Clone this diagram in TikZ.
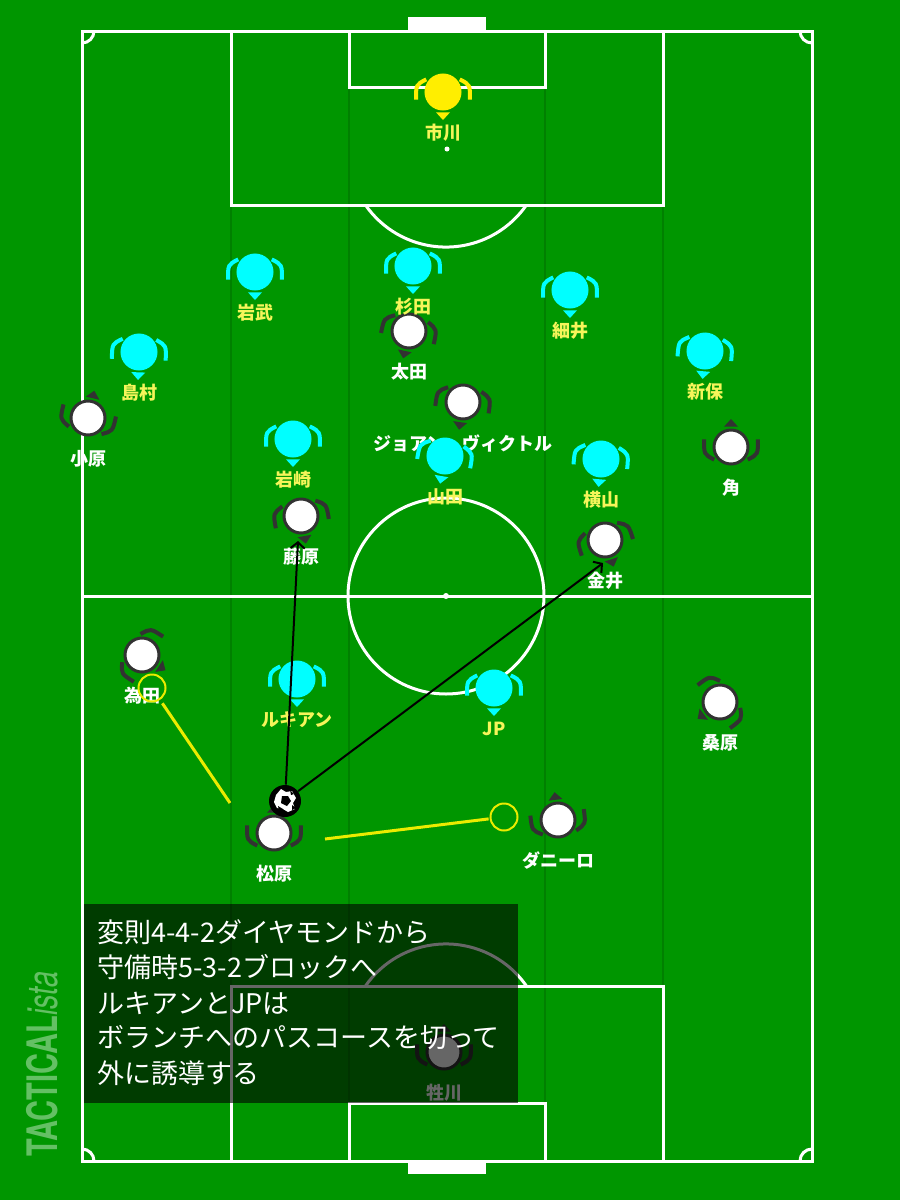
\documentclass[tikz,border=0pt]{standalone}
\usepackage{fontspec}
\newfontfamily\jp{Noto Sans CJK JP}
\newfontfamily\wmf{TeX Gyre Heros}
\usetikzlibrary{arrows.meta}
\definecolor{pitch}{RGB}{0,150,0}
\definecolor{stripe}{RGB}{0,128,0}
\definecolor{cyanp}{RGB}{0,255,255}
\definecolor{yel}{RGB}{255,238,0}
\definecolor{labely}{RGB}{245,245,90}
\definecolor{dk}{RGB}{50,50,50}
\definecolor{wm}{RGB}{100,192,100}
\definecolor{hl}{RGB}{235,235,0}
\tikzset{
  pline/.style={white, line width=1.5pt},
  stripeline/.style={stripe, line width=1pt},
  lbl/.style={font=\jp\bfseries\fontsize{9}{10}\selectfont, inner sep=0pt},
  boxtext/.style={font=\jp\fontsize{13.5}{16}\selectfont, text=white, anchor=west, inner sep=0pt},
  pdisc/.style={circle, line width=1.5pt, minimum size=17pt, inner sep=0pt},
  shoulder/.style={line width=2pt},
  passarrow/.style={black, line width=1pt, -{Straight Barb[length=3pt,width=7pt]}},
  hlline/.style={hl, line width=1.5pt},
  hlring/.style={circle, draw=hl, line width=1pt, minimum size=13.5pt, inner sep=0pt},
}
% #1 id, #2 x, #3 y, #4 facing angle, #5 fill, #6 accent, #7 label, #8 label colour
\newcommand\plr[8]{%
  \begin{scope}[shift={(#2,#3)}]
    \draw[#6, shoulder] (#4+127:21) .. controls (#4+105:28) .. (#4+74:28);
    \draw[#6, shoulder] (#4-127:21) .. controls (#4-105:28) .. (#4-74:28);
    \fill[#6] (#4:28) -- (#4+19:21.5) -- (#4-19:21.5) -- cycle;
  \end{scope}
  \node[pdisc, fill=#5, draw=#6] (#1) at (#2,#3) {};
  \node[lbl, text=#8] (#1-l) at (#2,#3+41) {#7};
}
\begin{document}
\begin{tikzpicture}[x=0.5pt,y=-0.5pt]
\useasboundingbox (0,0) rectangle (900,1200);
\fill[pitch] (0,0) rectangle (900,1200);
% stripes
\foreach \sx in {231,349,545,663} \draw[stripeline] (\sx,31) -- (\sx,1161);
% pitch lines
\draw[pline] (82,31) rectangle (812,1161);
\draw[pline] (82,596) -- (812,596);
\draw[pline] (446,596) circle[radius=98];
\fill[white] (446,596) circle[radius=3];
\draw[pline] (231,31) rectangle (663,205);
\draw[pline] (349,31) rectangle (545,87);
\draw[pline] (231,1161) rectangle (663,986);
\draw[pline] (349,1161) rectangle (545,1103);
\draw[pline] (526.4,205) arc[start angle=34.8, end angle=145.2, radius=98];
\draw[pline] (526.4,986) arc[start angle=-34.8, end angle=-145.2, radius=98];
\fill[white] (447,149) circle[radius=2.5];
\fill[white] (446,1042) circle[radius=2.5];
\draw[pline] (94,31) arc[start angle=0, end angle=90, radius=12];
\draw[pline] (812,43) arc[start angle=90, end angle=180, radius=12];
\draw[pline] (94,1161) arc[start angle=0, end angle=-90, radius=12];
\draw[pline] (800,1161) arc[start angle=180, end angle=270, radius=12];
\fill[white] (408,17) rectangle (486,31);
\fill[white] (408,1161) rectangle (486,1174);
% white team
\plr{oota}{409}{331}{102}{white}{dk}{太田}{white}
\plr{joan}{463}{402}{98}{white}{dk}{ジョアン・ヴィクトル}{white}
\plr{ohara}{88}{418}{283}{white}{dk}{小原}{white}
\plr{kado}{731}{447}{270}{white}{dk}{角}{white}
\plr{fujiwara}{301}{516}{80}{white}{dk}{藤原}{white}
\plr{kanai}{605}{540}{72}{white}{dk}{金井}{white}
\plr{tameda}{142}{655}{33}{white}{dk}{為田}{white}
\plr{kuwahara}{720}{702}{143}{white}{dk}{桑原}{white}
\plr{matsubara}{274}{833}{270}{white}{dk}{松原}{white}
\plr{danilo}{558}{820}{263}{white}{dk}{ダニーロ}{white}
\plr{nikawa}{444}{1052}{270}{white}{dk}{牲川}{white}
% cyan team
\plr{ichikawa}{443}{92}{90}{yel}{yel}{市川}{labely}
\plr{iwatake}{255}{272}{90}{cyanp}{cyanp}{岩武}{labely}
\plr{sugita}{413}{266}{90}{cyanp}{cyanp}{杉田}{labely}
\plr{hosoi}{570}{290}{90}{cyanp}{cyanp}{細井}{labely}
\plr{shimamura}{139}{352}{92}{cyanp}{cyanp}{島村}{labely}
\plr{shinpo}{705}{351}{95}{cyanp}{cyanp}{新保}{labely}
\plr{iwasaki}{293}{439}{90}{cyanp}{cyanp}{岩崎}{labely}
\plr{yamada}{445}{456}{100}{cyanp}{cyanp}{山田}{labely}
\plr{yokoyama}{601}{459}{95}{cyanp}{cyanp}{横山}{labely}
\plr{lukian}{297}{679}{90}{cyanp}{cyanp}{ルキアン}{labely}
\plr{jp}{494}{688}{90}{cyanp}{cyanp}{JP}{labely}
% ball
\node[circle, fill=black, minimum size=16pt, inner sep=0pt] (ball) at (285,801) {};
\fill[white] (276,795) -- (281,789) -- (286,792) -- (292,791) -- (296,798) -- (293,803) -- (295,809) -- (288,812) -- (283,809) -- (277,808) -- (274,802) -- cycle;
\fill[black] (282,796) -- (288,796) -- (291,801) -- (287,806) -- (281,803) -- cycle;
\fill[black] (278,806) -- (283,809) -- (279,811) -- cycle;
\fill[black] (290,790) -- (294,794) -- (291,795) -- cycle;
\fill[black] (292,805) -- (296,808) -- (292,810) -- cycle;
% passes
\coordinate (a1) at (298,541);
\coordinate (a2) at (603,563);
\draw[passarrow] (ball) -- (a1);
\draw[passarrow] (ball) -- (a2);
% highlighted marks
\node[hlring] (yc1) at (152,688) {};
\node[hlring] (yc2) at (504,817) {};
\coordinate (ye1) at (230,803);
\coordinate (ye2) at (325,839);
\draw[hlline, shorten <=2pt] (yc1) -- (ye1);
\draw[hlline, shorten <=0.5pt] (yc2) -- (ye2);
% text box
\fill[black, fill opacity=0.6] (84,904) rectangle (518,1103);
\node[boxtext] (t1) at (97,932) {変則4-4-2ダイヤモンドから};
\node[boxtext] (t2) at (97,967) {守備時5-3-2ブロックへ};
\node[boxtext] (t3) at (97,1003) {ルキアンとJPは};
\node[boxtext] (t4) at (97,1038) {ボランチへのパスコースを切って};
\node[boxtext] (t5) at (97,1073) {外に誘導する};
% watermark
\node[rotate=90, text=wm, inner sep=0pt] (wmark) at (42,1064)
  {\scalebox{0.69}[1]{\wmf\fontsize{21}{21}\selectfont\bfseries TACTICAL\mdseries\itshape ista}};
\end{tikzpicture}
\end{document}
